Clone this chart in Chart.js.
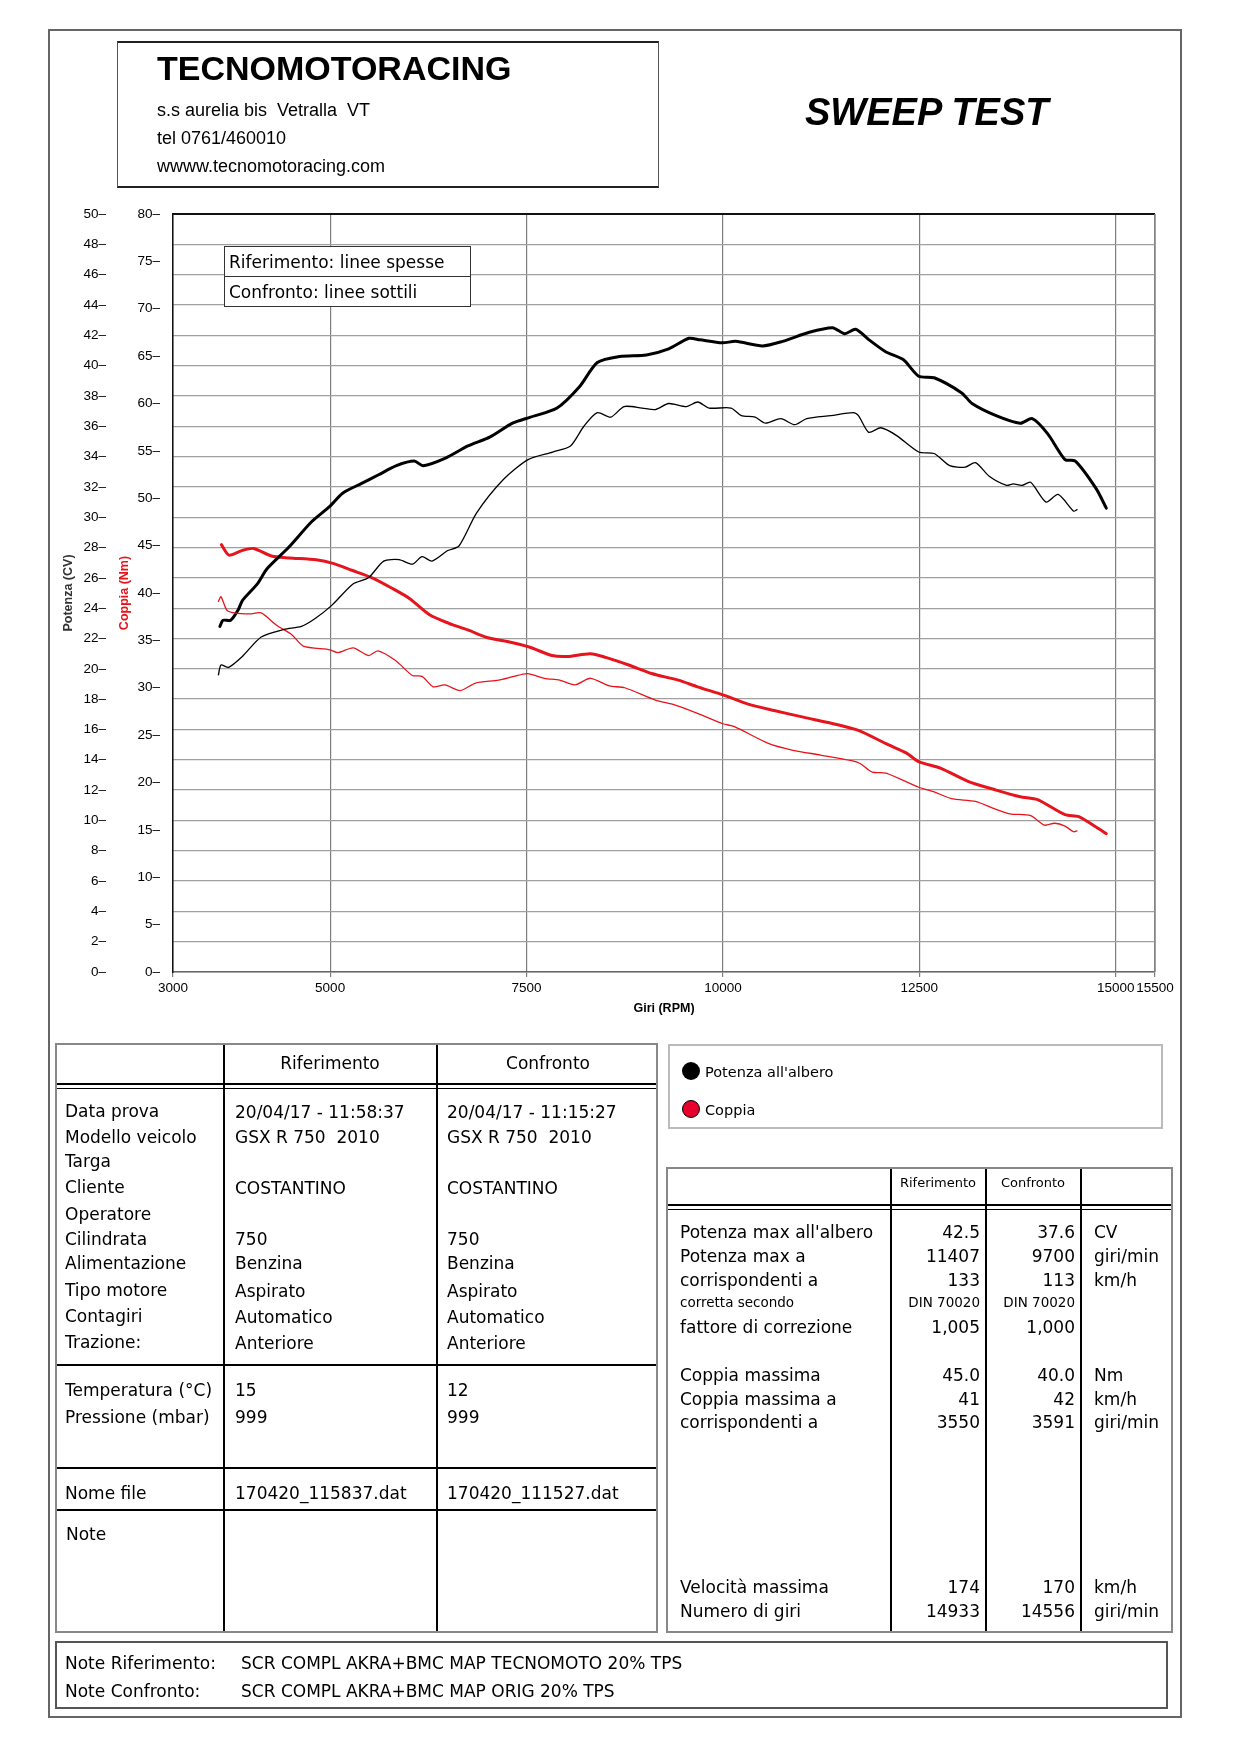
<!DOCTYPE html>
<html><head><meta charset="utf-8">
<script src="https://cdn.jsdelivr.net/npm/chart.js@4.4.1/dist/chart.umd.min.js"></script>
<style>
html,body{margin:0;padding:0;background:#fff;}
#page{position:relative;width:1240px;height:1754px;overflow:hidden;font-family:"DejaVu Sans",sans-serif;color:#000;background:#fff;}
.t{position:absolute;white-space:pre;line-height:1;}
.ln{position:absolute;}
#chartWrap{position:absolute;left:48px;top:190px;width:1133px;height:850px;}
</style></head>
<body><div id="page"><div id="chartWrap"><canvas id="c" width="1133" height="850"></canvas></div></div>
<script>
// ---------- chart data ----------
const RPM_TICKS = [3000, 5000, 7500, 10000, 12500, 15000, 15500];
const POWER_TICKS = [0,2,4,6,8,10,12,14,16,18,20,22,24,26,28,30,32,34,36,38,40,42,44,46,48,50];
const TORQUE_TICKS = [0,5,10,15,20,25,30,35,40,45,50,55,60,65,70,75,80];

// Riferimento (thick) - Potenza all'albero (CV)
const REF_POWER_RPM = [3597,3637,3733,3831,3883,4074,4197,4470,4764,4992,5163,5389,5617,5844,6071,6185,6469,6754,7038,7322,7550,7889,8174,8401,8685,9026,9310,9566,9707,9992,10163,10504,10760,11100,11396,11550,11690,11860,12076,12295,12492,12689,13040,13171,13477,13784,13938,14135,14355,14486,14749,14880];
const REF_POWER_CV  = [22.8,23.2,23.2,23.9,24.5,25.6,26.6,28.0,29.7,30.7,31.6,32.2,32.8,33.4,33.7,33.4,33.9,34.7,35.3,36.2,36.6,37.2,38.6,40.2,40.6,40.7,41.1,41.8,41.7,41.5,41.6,41.3,41.6,42.2,42.5,42.1,42.4,41.7,40.9,40.4,39.3,39.2,38.2,37.5,36.7,36.2,36.5,35.5,33.8,33.7,31.9,30.6];

// Confronto (thin) - Potenza all'albero (CV)
const CMP_POWER_RPM = [3578,3611,3709,3880,4123,4415,4634,4805,5024,5291,5487,5682,5877,6047,6170,6298,6498,6640,6867,7208,7520,7833,8060,8230,8401,8572,8742,8970,9140,9310,9537,9680,9822,10103,10234,10410,10541,10738,10914,11067,11374,11659,11725,11856,12010,12207,12492,12689,12886,13084,13215,13390,13610,13697,13807,13917,14114,14267,14464,14508];
const CMP_POWER_CV  = [19.6,20.25,20.1,20.8,22.1,22.6,22.8,23.3,24.2,25.6,26.0,27.1,27.2,26.9,27.4,27.1,27.8,28.1,30.3,32.5,33.8,34.3,34.7,36.0,36.9,36.6,37.3,37.2,37.1,37.5,37.3,37.6,37.2,37.2,36.7,36.6,36.2,36.5,36.1,36.5,36.7,36.9,36.7,35.6,35.9,35.4,34.3,34.2,33.4,33.3,33.6,32.7,32.1,32.2,32.1,32.3,31.0,31.5,30.4,30.5];

// Riferimento (thick) - Coppia (Nm)
const REF_TORQUE_RPM = [3616,3713,3883,4026,4253,4481,4822,5048,5276,5536,5788,6014,6266,6511,6754,6997,7241,7533,7826,8021,8313,8508,8800,9092,9433,9677,10018,10310,10651,11023,11461,11725,12076,12338,12492,12776,13127,13477,13784,14004,14355,14530,14749,14880];
const REF_TORQUE_NM  = [45.1,44.0,44.5,44.7,43.9,43.7,43.5,43.1,42.4,41.6,40.5,39.4,37.7,36.8,36.1,35.3,34.9,34.3,33.4,33.3,33.6,33.2,32.4,31.5,30.8,30.1,29.2,28.3,27.6,26.9,26.1,25.5,24.1,23.1,22.2,21.5,20.1,19.2,18.5,18.2,16.6,16.4,15.3,14.6];

// Confronto (thin) - Coppia (Nm)
const CMP_TORQUE_RPM = [3578,3611,3685,3782,3978,4123,4318,4513,4659,5000,5098,5293,5487,5609,5828,6047,6170,6314,6461,6656,6851,7144,7338,7509,7728,7922,8117,8313,8556,8751,9140,9384,9677,10001,10146,10586,10892,11242,11637,11746,11900,12076,12492,12689,12908,13215,13434,13653,13917,14092,14223,14355,14464,14508];
const CMP_TORQUE_NM  = [39.1,39.6,38.2,37.9,37.8,37.9,36.6,35.6,34.4,34.0,33.7,34.2,33.4,33.9,32.9,31.3,31.2,30.1,30.3,29.7,30.5,30.8,31.2,31.5,31.0,30.8,30.3,31.0,30.2,30.0,28.7,28.2,27.3,26.2,25.9,24.1,23.4,22.9,22.3,22.0,21.1,21.0,19.5,19.0,18.3,18.0,17.3,16.7,16.5,15.5,15.7,15.4,14.8,14.9];

const RED = '#e6141c';
const pts = (xs, ys) => xs.map((x, i) => ({x: x, y: ys[i]}));

// ---------- page decoration ----------
const page = document.getElementById('page');
function T(txt, x, y, size, o) {
  o = o || {};
  const d = document.createElement('div');
  d.className = 't';
  d.textContent = txt;
  d.style.fontSize = size + 'px';
  d.style.left = x + 'px';
  d.style.top = (y - size / 2) + 'px';
  if (o.b) d.style.fontWeight = 'bold';
  if (o.i) d.style.fontStyle = 'italic';
  if (o.f) d.style.fontFamily = o.f;
  if (o.c) d.style.color = o.c;
  if (o.a === 'r') d.style.transform = 'translateX(-100%)';
  if (o.a === 'c') d.style.transform = 'translateX(-50%)';
  page.appendChild(d);
}
function R(x, y, w, h, css) {
  const d = document.createElement('div');
  d.className = 'ln';
  d.style.left = x + 'px'; d.style.top = y + 'px';
  d.style.width = w + 'px'; d.style.height = h + 'px';
  d.style.boxSizing = 'border-box';
  if (css) d.style.cssText += css;
  page.appendChild(d);
  return d;
}
function H(x1, x2, y, w, c) { R(x1, y - w / 2, x2 - x1, w, 'background:' + (c || '#000')); }
function V(x, y1, y2, w, c) { R(x - w / 2, y1, w, y2 - y1, 'background:' + (c || '#000')); }

const ARIAL = '"Liberation Sans", Arial, sans-serif';

// outer page frame
R(48, 29, 1134, 1689, 'border:2px solid #666');
// header box
R(117, 41, 542, 147, 'border:1.5px solid #555;border-top:2px solid #222;border-bottom:2.5px solid #222');
T('TECNOMOTORACING', 157, 68, 34, {b: 1, f: ARIAL});
T('s.s aurelia bis  Vetralla  VT', 157, 110, 18, {f: ARIAL});
T('tel 0761/460010', 157, 138, 18, {f: ARIAL});
T('wwww.tecnomotoracing.com', 157, 166, 18, {f: ARIAL});
T('SWEEP TEST', 805, 112, 38, {b: 1, i: 1, f: ARIAL});

// in-plot legend box
R(224, 246, 247, 61, 'border:1.5px solid #333;background:#fff');
H(224, 471, 276.5, 1.5, '#333');
T('Riferimento: linee spesse', 229, 262, 17);
T('Confronto: linee sottili', 229, 292, 17);

// ---- left table ----
R(55, 1043, 603, 590, 'border:2px solid #888');
V(224, 1045, 1631, 1.5); V(437, 1045, 1631, 1.5);
H(57, 656, 1083.5, 2); H(57, 656, 1088, 1);
H(57, 656, 1365, 1.5); H(57, 656, 1468, 1.5); H(57, 656, 1510, 1.5);
T('Riferimento', 330, 1063, 17, {a: 'c'});
T('Confronto', 548, 1063, 17, {a: 'c'});
const L1 = ['Data prova','Modello veicolo','Targa','Cliente','Operatore','Cilindrata','Alimentazione','Tipo motore','Contagiri','Trazione:'];
const L1Y = [1111,1137,1161,1187,1214,1239,1263,1290,1316,1342];
L1.forEach((s, i) => T(s, 65, L1Y[i], 17));
const C2 = [['20/04/17 - 11:58:37',1112],['GSX R 750  2010',1137],['COSTANTINO',1188],['750',1239],['Benzina',1263],['Aspirato',1291],['Automatico',1317],['Anteriore',1343]];
const C3 = [['20/04/17 - 11:15:27',1112],['GSX R 750  2010',1137],['COSTANTINO',1188],['750',1239],['Benzina',1263],['Aspirato',1291],['Automatico',1317],['Anteriore',1343]];
C2.forEach(r => T(r[0], 235, r[1], 17));
C3.forEach(r => T(r[0], 447, r[1], 17));
T('Temperatura (°C)', 65, 1390, 17); T('15', 235, 1390, 17); T('12', 447, 1390, 17);
T('Pressione (mbar)', 65, 1417, 17); T('999', 235, 1417, 17); T('999', 447, 1417, 17);
T('Nome file', 65, 1493, 17); T('170420_115837.dat', 235, 1493, 17); T('170420_111527.dat', 447, 1493, 17);
T('Note', 66, 1534, 17);

// ---- legend box (bottom right) ----
R(668, 1044, 495, 85, 'border:2px solid #bbb');
R(682, 1062, 18, 18, 'border-radius:50%;background:#000');
R(682, 1100, 18, 18, 'border-radius:50%;background:#e8002d;border:1.5px solid #000');
T("Potenza all'albero", 705, 1072, 14.5);
T('Coppia', 705, 1110, 14.5);

// ---- right table ----
R(666, 1167, 507, 466, 'border:2px solid #888');
V(891, 1169, 1631, 1.5); V(986, 1169, 1631, 1.5); V(1081, 1169, 1631, 1.5);
H(668, 1171, 1205, 2); H(668, 1171, 1209, 1);
T('Riferimento', 938, 1182, 13, {a: 'c'});
T('Confronto', 1033, 1182, 13, {a: 'c'});
const RT = [
  ["Potenza max all'albero", '42.5', '37.6', 'CV', 1232, 17],
  ['Potenza max a', '11407', '9700', 'giri/min', 1256, 17],
  ['corrispondenti a', '133', '113', 'km/h', 1280, 17],
  ['corretta secondo', 'DIN 70020', 'DIN 70020', '', 1303, 13.5],
  ['fattore di correzione', '1,005', '1,000', '', 1327, 17],
  ['Coppia massima', '45.0', '40.0', 'Nm', 1375, 17],
  ['Coppia massima a', '41', '42', 'km/h', 1399, 17],
  ['corrispondenti a', '3550', '3591', 'giri/min', 1422, 17],
  ['Velocità massima', '174', '170', 'km/h', 1587, 17],
  ['Numero di giri', '14933', '14556', 'giri/min', 1611, 17]
];
RT.forEach(r => {
  T(r[0], 680, r[4], r[5]);
  T(r[1], 980, r[4], r[5], {a: 'r'});
  T(r[2], 1075, r[4], r[5], {a: 'r'});
  if (r[3]) T(r[3], 1094, r[4], 17);
});

// ---- notes box ----
R(55, 1641, 1113, 68, 'border:2px solid #555');
T('Note Riferimento:', 65, 1663, 17); T('SCR COMPL AKRA+BMC MAP TECNOMOTO 20% TPS', 241, 1663, 17);
T('Note Confronto:', 65, 1691, 17); T('SCR COMPL AKRA+BMC MAP ORIG 20% TPS', 241, 1691, 17);

// ---------- chart ----------
const framePlugin = {
  id: 'frame',
  afterDraw(chart) {
    const a = chart.chartArea, g = chart.ctx;
    g.save();
    g.strokeStyle = '#111'; g.lineWidth = 2;
    g.beginPath(); g.moveTo(a.left, a.top); g.lineTo(a.right, a.top); g.stroke();
    g.strokeStyle = '#888'; g.lineWidth = 1.5;
    g.beginPath(); g.moveTo(a.right, a.top); g.lineTo(a.right, a.bottom); g.stroke();
    g.restore();
  }
};
const tickFont = {family: ARIAL, size: 13.5};
new Chart(document.getElementById('c'), {
  type: 'line',
  data: {datasets: [
    {label: 'Potenza confronto', data: pts(CMP_POWER_RPM, CMP_POWER_CV), yAxisID: 'yP', borderColor: '#000', borderWidth: 1.3},
    {label: 'Coppia confronto', data: pts(CMP_TORQUE_RPM, CMP_TORQUE_NM), yAxisID: 'yT', borderColor: RED, borderWidth: 1.3},
    {label: 'Potenza riferimento', data: pts(REF_POWER_RPM, REF_POWER_CV), yAxisID: 'yP', borderColor: '#000', borderWidth: 3},
    {label: 'Coppia riferimento', data: pts(REF_TORQUE_RPM, REF_TORQUE_NM), yAxisID: 'yT', borderColor: RED, borderWidth: 3}
  ]},
  options: {
    responsive: false, animation: false, devicePixelRatio: 1,
    layout: {padding: {left: 0, top: 24, right: 26, bottom: 13}},
    plugins: {legend: {display: false}, tooltip: {enabled: false}},
    elements: {point: {radius: 0}, line: {tension: 0.25, borderCapStyle: 'round', borderJoinStyle: 'round', fill: false}},
    scales: {
      x: {
        type: 'linear', min: 3000, max: 15500,
        afterBuildTicks: a => { a.ticks = RPM_TICKS.map(v => ({value: v})); },
        afterFit: a => { a.height = 55; },
        ticks: {autoSkip: false, maxRotation: 0, padding: 3, color: '#000', font: tickFont, callback: v => String(v)},
        grid: {color: '#7d7d7d', lineWidth: 1.2, tickLength: 5, drawTicks: true},
        border: {color: '#666', width: 1.5},
        title: {display: true, text: 'Giri (RPM)', color: '#000', font: {family: ARIAL, size: 12.5, weight: 'bold'}, padding: {top: 0, bottom: 11}}
      },
      yP: {
        type: 'linear', position: 'left', weight: 2, min: 0, max: 50,
        afterBuildTicks: a => { a.ticks = POWER_TICKS.map(v => ({value: v})); },
        afterFit: a => { a.width = 64; },
        ticks: {autoSkip: false, padding: 6, color: '#000', font: tickFont, callback: v => v + '–'},
        grid: {color: '#a0a0a0', lineWidth: 1.3, drawTicks: false},
        border: {display: false},
        title: {display: true, text: 'Potenza (CV)', color: '#333', font: {family: ARIAL, size: 12.5, weight: 'bold'}, padding: {top: 13, bottom: 0}}
      },
      yT: {
        type: 'linear', position: 'left', weight: 1, min: 0, max: 80,
        afterBuildTicks: a => { a.ticks = TORQUE_TICKS.map(v => ({value: v})); },
        afterFit: a => { a.width = 61; },
        ticks: {autoSkip: false, padding: 13, color: '#000', font: tickFont, callback: v => v + '–'},
        grid: {display: false, drawTicks: false},
        border: {display: true, color: '#111', width: 1.5},
        title: {display: true, text: 'Coppia (Nm)', color: RED, font: {family: ARIAL, size: 12.5, weight: 'bold'}, padding: {top: 5, bottom: 0}}
      }
    }
  },
  plugins: [framePlugin]
});
</script>
</body></html>
